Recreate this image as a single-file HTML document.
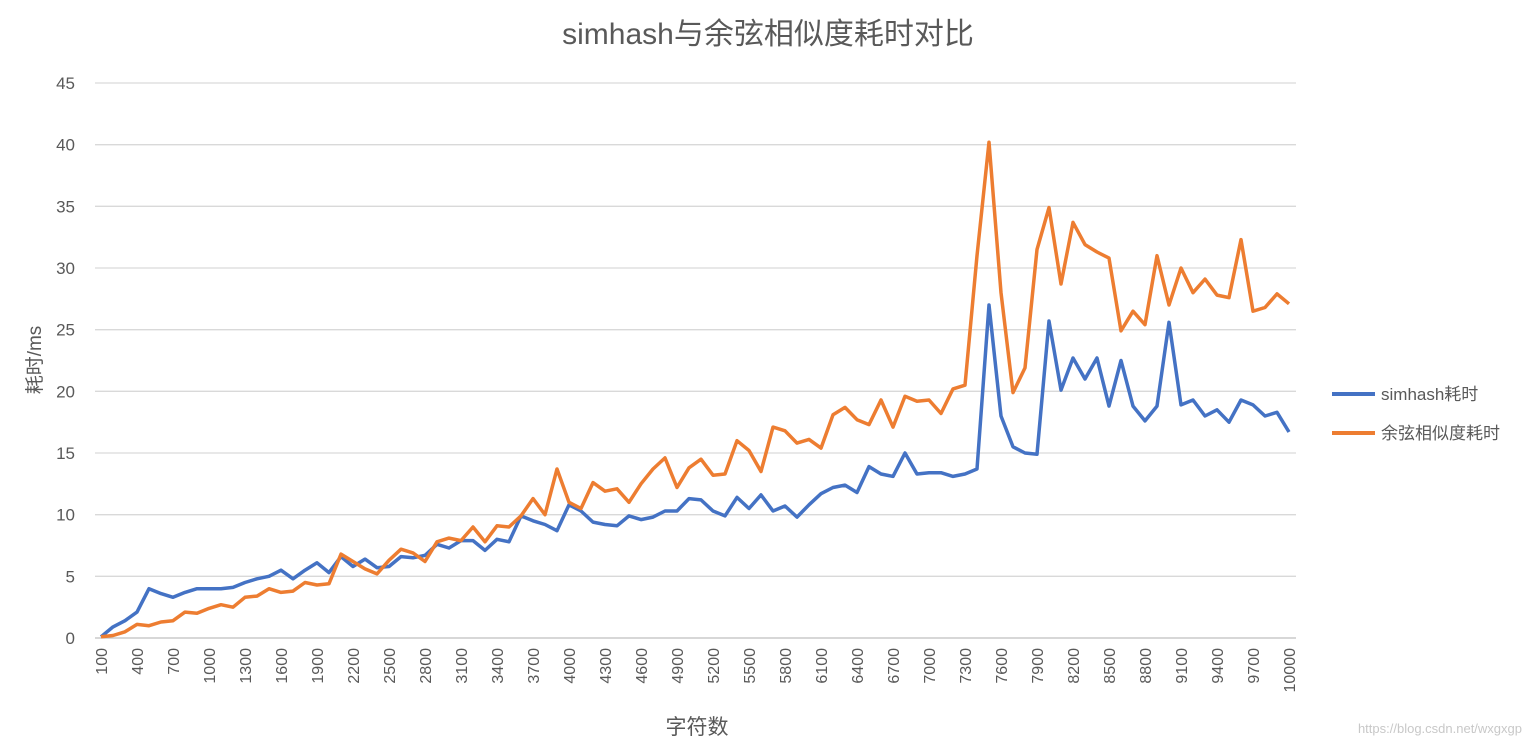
<!DOCTYPE html>
<html><head><meta charset="utf-8"><style>
html,body{margin:0;padding:0;background:#fff;}
svg text{font-family:"Liberation Sans","Noto Sans CJK SC",sans-serif;fill:#595959;}
</style></head><body>
<svg id="s" width="1532" height="745" xmlns="http://www.w3.org/2000/svg">
<rect width="1532" height="745" fill="#fff"/>
<text x="768" y="44" font-size="30" text-anchor="middle">simhash与余弦相似度耗时对比</text>
<g id="grid"></g>
<g id="lines"></g>
<text transform="translate(41,360) rotate(-90)" font-size="19" text-anchor="middle">耗时/ms</text>
<text x="697" y="734" font-size="21" text-anchor="middle">字符数</text>
<line x1="1332" y1="394" x2="1375" y2="394" stroke="#4472C4" stroke-width="4"/>
<text x="1381" y="400" font-size="17">simhash耗时</text>
<line x1="1332" y1="433" x2="1375" y2="433" stroke="#ED7D31" stroke-width="4"/>
<text x="1381" y="439" font-size="17">余弦相似度耗时</text>
<text x="1522" y="733" font-size="13" text-anchor="end" style="fill:#c8c8c8">https://blog.csdn.net/wxgxgp</text>
</svg>
<script>
var b=[0.1,0.9,1.4,2.1,4.0,3.6,3.3,3.7,4.0,4.0,4.0,4.1,4.5,4.8,5.0,5.5,4.8,5.5,6.1,5.3,6.6,5.8,6.4,5.7,5.8,6.6,6.5,6.7,7.6,7.3,7.9,7.9,7.1,8.0,7.8,9.9,9.5,9.2,8.7,10.8,10.3,9.4,9.2,9.1,9.9,9.6,9.8,10.3,10.3,11.3,11.2,10.3,9.9,11.4,10.5,11.6,10.3,10.7,9.8,10.8,11.7,12.2,12.4,11.8,13.9,13.3,13.1,15.0,13.3,13.4,13.4,13.1,13.3,13.7,27.0,18.0,15.5,15.0,14.9,25.7,20.1,22.7,21.0,22.7,18.8,22.5,18.8,17.6,18.8,25.6,18.9,19.3,18.0,18.5,17.5,19.3,18.9,18.0,18.3,16.7];
var o=[0.1,0.2,0.5,1.1,1.0,1.3,1.4,2.1,2.0,2.4,2.7,2.5,3.3,3.4,4.0,3.7,3.8,4.5,4.3,4.4,6.8,6.2,5.6,5.2,6.3,7.2,6.9,6.2,7.8,8.1,7.9,9.0,7.8,9.1,9.0,9.9,11.3,10.0,13.7,11.0,10.5,12.6,11.9,12.1,11.0,12.5,13.7,14.6,12.2,13.8,14.5,13.2,13.3,16.0,15.2,13.5,17.1,16.8,15.8,16.1,15.4,18.1,18.7,17.7,17.3,19.3,17.1,19.6,19.2,19.3,18.2,20.2,20.5,31.0,40.2,28.0,19.9,21.9,31.5,34.9,28.7,33.7,31.9,31.3,30.8,24.9,26.5,25.4,31.0,27.0,30.0,28.0,29.1,27.8,27.6,32.3,26.5,26.8,27.9,27.1];
var NS="http://www.w3.org/2000/svg";
function el(t,a,p,txt){var e=document.createElementNS(NS,t);for(var k in a)e.setAttribute(k,a[k]);if(txt!=null)e.textContent=txt;p.appendChild(e);return e;}
var g=document.getElementById('grid'),L=document.getElementById('lines');
function X(i){return 101+12*i;}function Y(v){return 638-v*555/45;}
for(var v=0;v<=45;v+=5){var y=Y(v);el('line',{x1:95,x2:1296,y1:y,y2:y,stroke:v==0?'#bfbfbf':'#d9d9d9','stroke-width':1.3},g);
el('text',{x:75,y:y+6,'font-size':17,'text-anchor':'end'},g,String(v));}
for(var i=0;i<100;i++){if(i%3==0||i==99){var x=X(i);el('text',{transform:'translate('+(x+6)+',648) rotate(-90)','font-size':16,'text-anchor':'end'},g,String((i+1)*100));}}
function pl(d,c){var p=d.map(function(v,i){return X(i)+','+Y(v).toFixed(1)}).join(' ');el('polyline',{points:p,fill:'none',stroke:c,'stroke-width':3.5,'stroke-linejoin':'round'},L);}
pl(b,'#4472C4');pl(o,'#ED7D31');
</script>
</body></html>
